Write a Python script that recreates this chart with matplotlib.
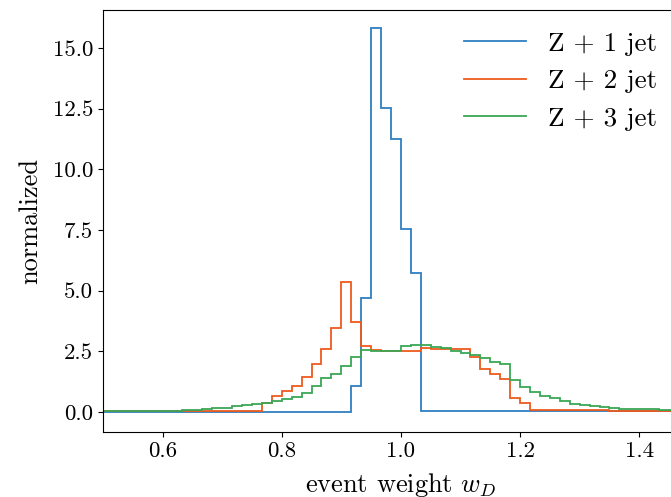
import numpy as np
import matplotlib
matplotlib.use("Agg")
import matplotlib.pyplot as plt

plt.rcParams['font.family'] = 'serif'
plt.rcParams['font.serif'] = ['cmr10']
plt.rcParams['mathtext.fontset'] = 'cm'
plt.rcParams['axes.formatter.use_mathtext'] = True

bin_edges = np.linspace(0.5, 1.5, 61)

z1 = [0]*25 + [1.08, 4.71, 15.8, 12.51, 11.24, 7.53, 5.71] + \
     [0.05]*8 + [0.04]*8 + [0.03]*6 + [0.02]*6
z2 = [0.02, 0.02, 0.02, 0.02, 0.02, 0.03, 0.03, 0.03, 0.03, 0.03, 0.04, 0.04, 0.04, 0.05, 0.05, 0.05,
      0.36, 0.67, 0.87, 1.08, 1.46, 1.96, 2.6, 3.45, 5.34, 3.70, 2.73, 2.55, 2.5, 2.53,
      2.53, 2.5, 2.62, 2.58, 2.58, 2.58, 2.58, 2.25, 1.79, 1.57, 1.34, 0.58, 0.37,
      0.1, 0.1, 0.09, 0.09, 0.08, 0.08, 0.07, 0.07, 0.06, 0.06, 0.05, 0.05, 0.05, 0.04, 0.04, 0.04, 0.04]
z3 = [0.02, 0.02, 0.02, 0.02, 0.03, 0.05, 0.05, 0.05, 0.08, 0.08, 0.12, 0.18, 0.18, 0.23, 0.29, 0.32,
      0.36, 0.45, 0.52, 0.63, 0.77, 1.07, 1.39, 1.58, 1.91, 2.28, 2.55, 2.5, 2.5, 2.53,
      2.72, 2.77, 2.77, 2.69, 2.62, 2.53, 2.42, 2.36, 2.22, 2.04, 1.98, 1.30, 1.03, 0.81,
      0.67, 0.56, 0.44, 0.34, 0.29, 0.23, 0.21, 0.16, 0.14, 0.14, 0.11, 0.11, 0.1, 0.09, 0.08, 0.07]
labels = ['Z + 1 jet', 'Z + 2 jet', 'Z + 3 jet']
colors = ['#2f7fc0', '#ee5a1c', '#3aa655']

fig = plt.figure(figsize=(6.71, 4.97), dpi=100)
ax = fig.add_axes([0.1535, 0.131, 0.888, 0.849])
for vals, lab, c in zip([z1, z2, z3], labels, colors):
    ax.stairs(vals, bin_edges, baseline=None, color=c, lw=1.3, label=lab)
ax.set_xlim(0.5, 1.5)
ax.set_ylim(-0.82, 16.56)
ax.set_xticks([0.6, 0.8, 1.0, 1.2, 1.4])
ax.set_yticks([0, 2.5, 5, 7.5, 10, 12.5, 15])
ax.xaxis.set_major_formatter(matplotlib.ticker.FormatStrFormatter('%.1f'))
ax.yaxis.set_major_formatter(matplotlib.ticker.FormatStrFormatter('%.1f'))
ax.tick_params(labelsize=16.5)
ax.set_xlabel('event weight $w_D$', fontsize=19, labelpad=7)
ax.set_ylabel('normalized', fontsize=19, labelpad=8)
ax.legend(loc='upper right', bbox_to_anchor=(1.015, 0.985), bbox_transform=fig.transFigure,
          frameon=False, fontsize=19.5, handlelength=2.3, labelspacing=0.5)
fig.savefig('out.png', dpi=100)
